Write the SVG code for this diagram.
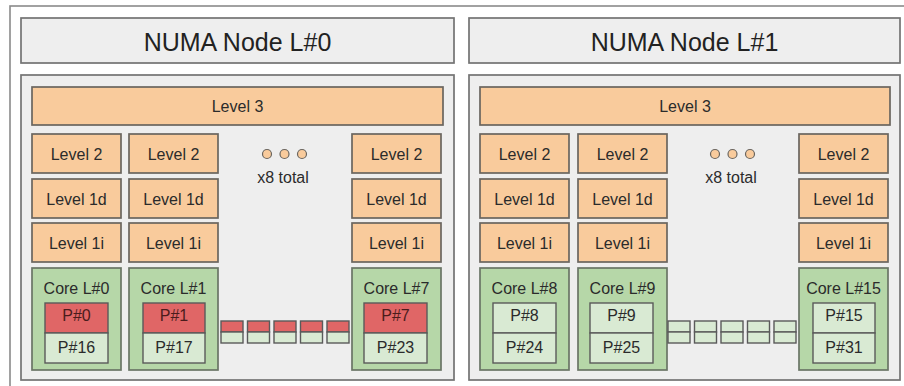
<svg xmlns="http://www.w3.org/2000/svg" width="904" height="386" viewBox="0 0 904 386">
  <defs>
    <style>
      text { font-family: "Liberation Sans", Arial, sans-serif; fill: #2b2b2b; text-anchor: middle; }
      .t16 { font-size: 16px; }
      .t25 { font-size: 25px; fill: #222; }
      .on { fill: #4a1c1c; }
      .frame { fill: #ffffff; stroke: #8a8a8a; stroke-width: 1.6; }
      .panel { fill: #eeeeee; stroke: #737373; stroke-width: 1.7; }
      .cache { fill: #f9cb9c; stroke: #6a655f; stroke-width: 1.7; }
      .core { fill: #b6d7a8; stroke: #6a7566; stroke-width: 1.7; }
      .pu-on { fill: #e06666; stroke: #5a5a5a; stroke-width: 1.4; }
      .pu-off { fill: #d9ead3; stroke: #5a5a5a; stroke-width: 1.4; }
      .dot { fill: #f9cb9c; stroke: #6a655f; stroke-width: 1.2; }
    </style>
  </defs>

  <rect width="904" height="386" fill="#ffffff"/>
  <!-- machine frame, runs off the right and bottom edges -->
  <rect class="frame" x="10" y="6" width="904" height="392"/>

  <!-- ===== NUMA node 0 ===== -->
  <g id="numa0">
    <g id="numa0-header">
      <rect class="panel" x="21" y="18" width="433" height="45"/>
      <text class="t25" x="237.5" y="51">NUMA Node L#0</text>
    </g>
    <rect class="panel" x="21" y="75" width="433" height="305"/>
    <g id="numa0-l3">
      <rect class="cache" x="32" y="87" width="411" height="38"/>
      <text class="t16" x="237.5" y="112">Level 3</text>
    </g>

    <g id="numa0-col0">
      <rect class="cache" x="32" y="134" width="89" height="39"/><text class="t16" x="76.5" y="160">Level 2</text>
      <rect class="cache" x="32" y="179" width="89" height="39"/><text class="t16" x="76.5" y="205">Level 1d</text>
      <rect class="cache" x="32" y="223" width="89" height="39"/><text class="t16" x="76.5" y="249">Level 1i</text>
      <rect class="core" x="32" y="268" width="89" height="102"/><text class="t16" x="76.5" y="294">Core L#0</text>
      <rect class="pu-on" x="45" y="303" width="63" height="30"/><text class="t16 on" x="76.5" y="321">P#0</text>
      <rect class="pu-off" x="45" y="333" width="63" height="30"/><text class="t16" x="76.5" y="353">P#16</text>
    </g>
    <g id="numa0-col1">
      <rect class="cache" x="129" y="134" width="89" height="39"/><text class="t16" x="173.5" y="160">Level 2</text>
      <rect class="cache" x="129" y="179" width="89" height="39"/><text class="t16" x="173.5" y="205">Level 1d</text>
      <rect class="cache" x="129" y="223" width="89" height="39"/><text class="t16" x="173.5" y="249">Level 1i</text>
      <rect class="core" x="129" y="268" width="89" height="102"/><text class="t16" x="173.5" y="294">Core L#1</text>
      <rect class="pu-on" x="143" y="303" width="62" height="30"/><text class="t16 on" x="174" y="321">P#1</text>
      <rect class="pu-off" x="143" y="333" width="62" height="30"/><text class="t16" x="174" y="353">P#17</text>
    </g>
    <g id="numa0-col7">
      <rect class="cache" x="352" y="134" width="89" height="39"/><text class="t16" x="396.5" y="160">Level 2</text>
      <rect class="cache" x="352" y="179" width="89" height="39"/><text class="t16" x="396.5" y="205">Level 1d</text>
      <rect class="cache" x="352" y="223" width="89" height="39"/><text class="t16" x="396.5" y="249">Level 1i</text>
      <rect class="core" x="352" y="268" width="89" height="102"/><text class="t16" x="396.5" y="294">Core L#7</text>
      <rect class="pu-on" x="364" y="303" width="63" height="30"/><text class="t16 on" x="395.5" y="321">P#7</text>
      <rect class="pu-off" x="364" y="333" width="63" height="30"/><text class="t16" x="395.5" y="353">P#23</text>
    </g>
    <g id="numa0-more">
      <circle class="dot" cx="267" cy="154" r="4.5"/>
      <circle class="dot" cx="284.5" cy="154" r="4.5"/>
      <circle class="dot" cx="302" cy="154" r="4.5"/>
      <text class="t16" x="283" y="183">x8 total</text>
      <rect class="pu-on" x="221" y="321" width="22" height="11"/><rect class="pu-off" x="221" y="332" width="22" height="11"/>
      <rect class="pu-on" x="247.5" y="321" width="22" height="11"/><rect class="pu-off" x="247.5" y="332" width="22" height="11"/>
      <rect class="pu-on" x="274" y="321" width="22" height="11"/><rect class="pu-off" x="274" y="332" width="22" height="11"/>
      <rect class="pu-on" x="300.5" y="321" width="22" height="11"/><rect class="pu-off" x="300.5" y="332" width="22" height="11"/>
      <rect class="pu-on" x="327" y="321" width="22" height="11"/><rect class="pu-off" x="327" y="332" width="22" height="11"/>
    </g>
  </g>

  <!-- ===== NUMA node 1 ===== -->
  <g id="numa1">
    <g id="numa1-header">
      <rect class="panel" x="469" y="18" width="431" height="45"/>
      <text class="t25" x="684.5" y="51">NUMA Node L#1</text>
    </g>
    <rect class="panel" x="469" y="75" width="431" height="305"/>
    <g id="numa1-l3">
      <rect class="cache" x="480" y="87" width="410" height="38"/>
      <text class="t16" x="685" y="112">Level 3</text>
    </g>

    <g id="numa1-col0">
      <rect class="cache" x="480" y="134" width="89" height="39"/><text class="t16" x="524.5" y="160">Level 2</text>
      <rect class="cache" x="480" y="179" width="89" height="39"/><text class="t16" x="524.5" y="205">Level 1d</text>
      <rect class="cache" x="480" y="223" width="89" height="39"/><text class="t16" x="524.5" y="249">Level 1i</text>
      <rect class="core" x="480" y="268" width="89" height="102"/><text class="t16" x="524.5" y="294">Core L#8</text>
      <rect class="pu-off" x="493" y="303" width="63" height="30"/><text class="t16" x="524.5" y="321">P#8</text>
      <rect class="pu-off" x="493" y="333" width="63" height="30"/><text class="t16" x="524.5" y="353">P#24</text>
    </g>
    <g id="numa1-col1">
      <rect class="cache" x="578" y="134" width="89" height="39"/><text class="t16" x="622.5" y="160">Level 2</text>
      <rect class="cache" x="578" y="179" width="89" height="39"/><text class="t16" x="622.5" y="205">Level 1d</text>
      <rect class="cache" x="578" y="223" width="89" height="39"/><text class="t16" x="622.5" y="249">Level 1i</text>
      <rect class="core" x="578" y="268" width="89" height="102"/><text class="t16" x="622.5" y="294">Core L#9</text>
      <rect class="pu-off" x="590" y="303" width="63" height="30"/><text class="t16" x="621.5" y="321">P#9</text>
      <rect class="pu-off" x="590" y="333" width="63" height="30"/><text class="t16" x="621.5" y="353">P#25</text>
    </g>
    <g id="numa1-col7">
      <rect class="cache" x="799" y="134" width="89" height="39"/><text class="t16" x="843.5" y="160">Level 2</text>
      <rect class="cache" x="799" y="179" width="89" height="39"/><text class="t16" x="843.5" y="205">Level 1d</text>
      <rect class="cache" x="799" y="223" width="89" height="39"/><text class="t16" x="843.5" y="249">Level 1i</text>
      <rect class="core" x="799" y="268" width="89" height="102"/><text class="t16" x="843.5" y="294">Core L#15</text>
      <rect class="pu-off" x="813" y="303" width="62" height="30"/><text class="t16" x="844" y="321">P#15</text>
      <rect class="pu-off" x="813" y="333" width="62" height="30"/><text class="t16" x="844" y="353">P#31</text>
    </g>
    <g id="numa1-more">
      <circle class="dot" cx="715" cy="154" r="4.5"/>
      <circle class="dot" cx="732.5" cy="154" r="4.5"/>
      <circle class="dot" cx="750" cy="154" r="4.5"/>
      <text class="t16" x="731" y="183">x8 total</text>
      <rect class="pu-off" x="668" y="321" width="22" height="11"/><rect class="pu-off" x="668" y="332" width="22" height="11"/>
      <rect class="pu-off" x="694.5" y="321" width="22" height="11"/><rect class="pu-off" x="694.5" y="332" width="22" height="11"/>
      <rect class="pu-off" x="721" y="321" width="22" height="11"/><rect class="pu-off" x="721" y="332" width="22" height="11"/>
      <rect class="pu-off" x="747.5" y="321" width="22" height="11"/><rect class="pu-off" x="747.5" y="332" width="22" height="11"/>
      <rect class="pu-off" x="774" y="321" width="22" height="11"/><rect class="pu-off" x="774" y="332" width="22" height="11"/>
    </g>
  </g>
</svg>
